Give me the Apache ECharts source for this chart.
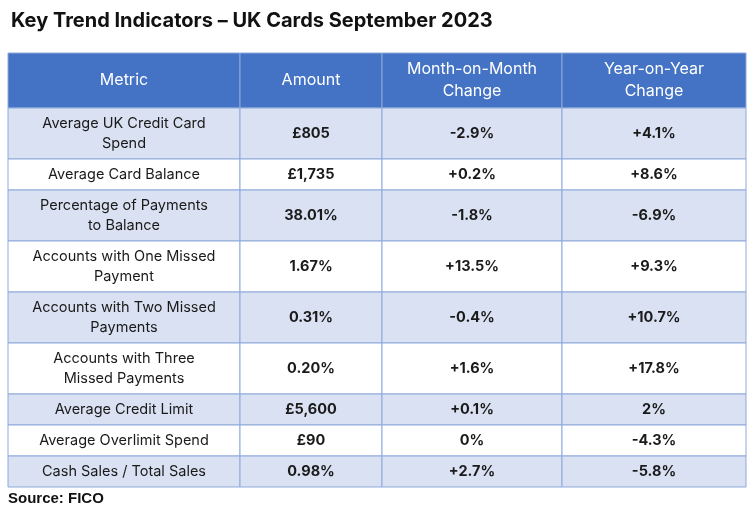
<!DOCTYPE html>
<html><head><meta charset="utf-8">
<script src="https://cdn.jsdelivr.net/npm/echarts@6/dist/echarts.min.js"></script>
<style>html,body{margin:0;padding:0;background:#fff}#c{width:755px;height:520px}</style>
</head><body><div id="c"></div>
<script>
const headers = ['Metric', 'Amount', 'Month-on-Month\nChange', 'Year-on-Year\nChange'];
const metrics = ['Average UK Credit Card\nSpend', 'Average Card Balance', 'Percentage of Payments\nto Balance', 'Accounts with One Missed\nPayment', 'Accounts with Two Missed\nPayments', 'Accounts with Three\nMissed Payments', 'Average Credit Limit', 'Average Overlimit Spend', 'Cash Sales / Total Sales'];
const amounts = ['£805', '£1,735', '38.01%', '1.67%', '0.31%', '0.20%', '£5,600', '£90', '0.98%'];
const momChange = ['-2.9%', '+0.2%', '-1.8%', '+13.5%', '-0.4%', '+1.6%', '+0.1%', '0%', '+2.7%'];
const yoyChange = ['+4.1%', '+8.6%', '-6.9%', '+9.3%', '+10.7%', '+17.8%', '2%', '-4.3%', '-5.8%'];

const colW = [232, 142, 180, 184];
const headH = 55;
const rowH = metrics.map(m => m.includes('\n') ? 51 : 31);
const colX = [0]; colW.forEach(w => colX.push(colX[colX.length - 1] + w));
const rowY = [0, headH]; rowH.forEach(h => rowY.push(rowY[rowY.length - 1] + h));
const totalW = colX[colX.length - 1], totalH = rowY[rowY.length - 1];

const cells = [];
headers.forEach((h, c) => cells.push([c, 0, h]));
metrics.forEach((m, r) => {
  [m, amounts[r], momChange[r], yoyChange[r]].forEach((t, c) => cells.push([c, r + 1, t]));
});

const chart = echarts.init(document.getElementById('c'));
chart.setOption({
  animation: false,
  title: { text: 'Key Trend Indicators – UK Cards September 2023', left: 6, top: 6,
    textStyle: { fontFamily: 'Inter', fontSize: 20, fontWeight: 'bold', color: '#111' } },
  graphic: [{ type: 'text', left: 8, top: 491, style: { text: 'Source: FICO', font: 'bold 15px "Liberation Sans", Arial', fill: '#111' } }],
  grid: { left: 8, top: 53, width: totalW, height: totalH },
  xAxis: { type: 'value', min: 0, max: totalW, show: false },
  yAxis: { type: 'value', min: 0, max: totalH, inverse: true, show: false },
  series: [{
    type: 'custom',
    data: cells,
    renderItem: (params, api) => {
      const c = api.value(0), r = api.value(1), t = cells[params.dataIndex][2];
      const p0 = api.coord([colX[c], rowY[r]]);
      const p1 = api.coord([colX[c + 1], rowY[r + 1]]);
      const isHead = r === 0;
      const fill = isHead ? '#4472C4' : (r % 2 === 1 ? '#D9E1F2' : '#FFFFFF');
      return {
        type: 'group',
        children: [
          { type: 'rect', shape: { x: p0[0], y: p0[1], width: p1[0] - p0[0], height: p1[1] - p0[1] },
            style: { fill: fill, stroke: '#8EA9DB', lineWidth: 1 } },
          { type: 'text', x: (p0[0] + p1[0]) / 2, y: (p0[1] + p1[1]) / 2,
            style: { text: t, align: 'center', verticalAlign: 'middle',
              fontFamily: 'Inter', fontSize: isHead ? 16 : 14.5, lineHeight: isHead ? 22 : 20,
              fontWeight: (!isHead && c > 0) ? 'bold' : 'normal',
              fill: isHead ? '#FFFFFF' : '#1a1a1a' } }
        ]
      };
    }
  }]
});
</script></body></html>
